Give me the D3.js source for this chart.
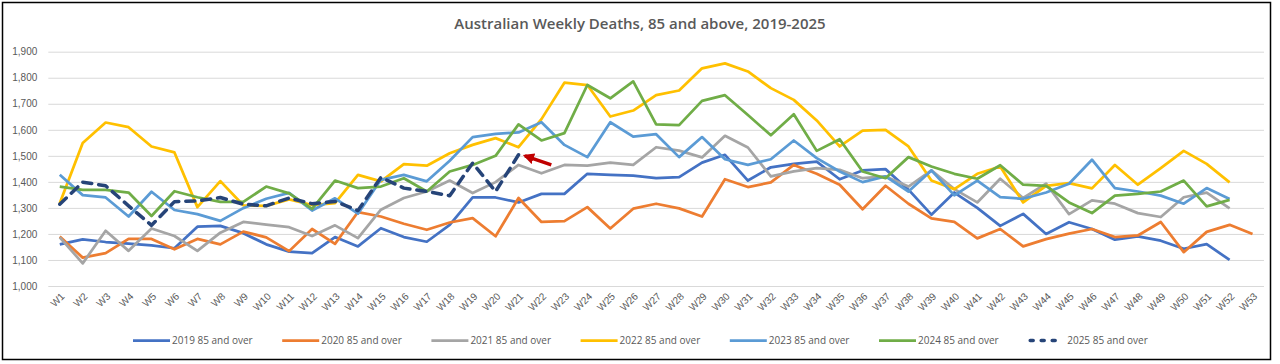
<!DOCTYPE html>
<html>
<head>
<meta charset="utf-8">
<script src="https://cdn.jsdelivr.net/npm/d3@7"></script>
<style>
  body { margin: 0; background: #fff; }
  svg { display: block; font-family: "Open Sans", "Noto Sans", sans-serif; }
  .grid line { stroke: #d9d9d9; stroke-width: 1; }
  .tick text { fill: #595959; }
</style>
</head>
<body>
<div id="chart"></div>
<script>
// weekly deaths, 85 and above
var weeks = d3.range(1, 54).map(function(i) { return "W" + i; });
var yTicks = [1000, 1100, 1200, 1300, 1400, 1500, 1600, 1700, 1800, 1900];

var d2019 = [1160, 1179, 1169, 1163, 1156, 1145, 1228, 1231, 1203, 1160,
  1132, 1126, 1188, 1152, 1222, 1188, 1170, 1235, 1340, 1340,
  1321, 1354, 1354, 1431, 1427, 1424, 1414, 1418, 1474, 1504,
  1405, 1456, 1469, 1478, 1410, 1444, 1449, 1370, 1274, 1359,
  1300, 1231, 1277, 1200, 1245, 1219, 1178, 1191, 1174, 1143,
  1161, 1100];
var d2020 = [1190, 1109, 1126, 1181, 1181, 1141, 1181, 1160, 1209, 1187,
  1134, 1219, 1162, 1284, 1267, 1239, 1216, 1244, 1261, 1191,
  1338, 1246, 1249, 1303, 1221, 1297, 1316, 1298, 1267, 1410,
  1380, 1398, 1465, 1431, 1389, 1295, 1385, 1316, 1260, 1246,
  1183, 1219, 1152, 1180, 1201, 1219, 1188, 1194, 1246, 1130,
  1208, 1235, 1200];
var d2021 = [1187, 1087, 1212, 1135, 1221, 1192, 1135, 1205, 1246, 1236,
  1226, 1192, 1233, 1184, 1293, 1338, 1363, 1405, 1357, 1399,
  1465, 1433, 1465, 1462, 1474, 1465, 1533, 1520, 1494, 1577,
  1532, 1421, 1440, 1453, 1446, 1414, 1421, 1382, 1444, 1372,
  1321, 1412, 1338, 1393, 1276, 1329, 1316, 1280, 1265, 1341,
  1359, 1298];
var d2022 = [1318, 1549, 1628, 1610, 1536, 1513, 1303, 1403, 1310, 1308,
  1333, 1311, 1318, 1427, 1402, 1468, 1462, 1510, 1542, 1568,
  1533, 1641, 1781, 1772, 1651, 1674, 1733, 1751, 1836, 1855,
  1824, 1760, 1715, 1636, 1536, 1597, 1600, 1536, 1405, 1372,
  1431, 1459, 1321, 1385, 1395, 1375, 1465, 1389, 1453, 1519,
  1469, 1398];
var d2023 = [1427, 1349, 1340, 1267, 1362, 1292, 1276, 1250, 1299, 1335,
  1358, 1290, 1337, 1278, 1408, 1427, 1402, 1481, 1572, 1584,
  1590, 1629, 1542, 1495, 1629, 1574, 1583, 1495, 1572, 1487,
  1465, 1487, 1559, 1491, 1440, 1399, 1421, 1363, 1444, 1348,
  1405, 1341, 1335, 1359, 1393, 1485, 1376, 1363, 1347, 1316,
  1376, 1334];
var d2024 = [1382, 1369, 1369, 1359, 1269, 1364, 1341, 1323, 1323, 1382,
  1356, 1296, 1405, 1376, 1382, 1414, 1363, 1440, 1465, 1500,
  1621, 1559, 1587, 1772, 1721, 1786, 1621, 1618, 1711, 1733,
  1657, 1579, 1660, 1519, 1564, 1440, 1414, 1495, 1459, 1431,
  1412, 1464, 1389, 1385, 1321, 1280, 1347, 1354, 1363, 1405,
  1306, 1331];
var d2025 = [1314, 1399, 1385, 1308, 1233, 1324, 1327, 1340, 1314, 1308,
  1338, 1316, 1325, 1290, 1417, 1376, 1363, 1347, 1472, 1363,
  1504];

var seriesNames = ["2019 85 and over", "2020 85 and over", "2021 85 and over",
  "2022 85 and over", "2023 85 and over", "2024 85 and over", "2025 85 and over"];
var seriesValues = [d2019, d2020, d2021, d2022, d2023, d2024, d2025];
var seriesColors = ["#4472c4", "#ed7d31", "#a5a5a5", "#ffc000", "#5b9bd5", "#70ad47", "#264478"];

// red arrow pointing at the latest 2025 week: [week index, value]
var arrowFrom = [21.43, 1465];
var arrowTo = [20.28, 1500];

var W = 1280, H = 364;
var margin = { top: 51.7, right: 16, bottom: 78, left: 48.3 };

var svg = d3.select("#chart").append("svg")
  .attr("width", W)
  .attr("height", H);

svg.append("defs").append("marker")
  .attr("id", "arrowhead")
  .attr("viewBox", "0 0 10 10")
  .attr("refX", 8)
  .attr("refY", 5)
  .attr("markerWidth", 3.2)
  .attr("markerHeight", 3.2)
  .attr("orient", "auto")
  .append("path")
  .attr("d", "M0,0 L10,5 L0,10 z")
  .attr("fill", "#c00000");

// outer frame
svg.append("rect")
  .attr("x", 2.5).attr("y", 2.5)
  .attr("width", 1268).attr("height", 357)
  .attr("fill", "#fff")
  .attr("stroke", "#000")
  .attr("stroke-width", 1.5);

// title
svg.append("text")
  .attr("x", 640)
  .attr("y", 29)
  .attr("text-anchor", "middle")
  .attr("fill", "#595959")
  .style("font-size", "15px")
  .style("font-weight", 600)
  .text("Australian Weekly Deaths, 85 and above, 2019-2025");

var x = d3.scalePoint().domain(weeks)
  .range([margin.left, 1264]).padding(0.5);
var xi = d3.scaleLinear().domain([0, weeks.length - 1])
  .range([x(weeks[0]), x(weeks[weeks.length - 1])]);
var y = d3.scaleLinear().domain([1000, 1900]).range([286, margin.top]);

// gridlines + y labels
var yAxis = svg.append("g")
  .attr("class", "grid")
  .attr("transform", "translate(" + margin.left + ",0)")
  .call(d3.axisLeft(y).tickValues(yTicks).tickSize(-(1264 - margin.left))
    .tickPadding(11).tickFormat(d3.format(",")));
yAxis.select(".domain").remove();
yAxis.selectAll("text").style("font-size", "10px");

// x axis labels, rotated like excel
var xAxis = svg.append("g")
  .attr("transform", "translate(0,286)")
  .call(d3.axisBottom(x).tickSize(0).tickPadding(0));
xAxis.select(".domain").remove();
xAxis.selectAll("text")
  .style("font-size", "10px")
  .attr("text-anchor", "end")
  .attr("dy", null)
  .attr("y", 0)
  .attr("transform", function() { return "translate(5,11) rotate(-45)"; });

// series lines
var line = d3.line()
  .x(function(d, i) { return x(weeks[i]); })
  .y(function(d) { return y(d); });

seriesValues.forEach(function(vals, k) {
  var p = svg.append("path")
    .datum(vals)
    .attr("fill", "none")
    .attr("stroke", seriesColors[k])
    .attr("stroke-width", k == 6 ? 3.5 : 2.75)
    .attr("stroke-linejoin", "round")
    .attr("d", line);
  if (k == 6) {
    p.attr("stroke-dasharray", "9,7").attr("stroke-linecap", "round");
  }
});

// annotation arrow
svg.append("line")
  .attr("x1", xi(arrowFrom[0])).attr("y1", y(arrowFrom[1]))
  .attr("x2", xi(arrowTo[0])).attr("y2", y(arrowTo[1]))
  .attr("stroke", "#c00000")
  .attr("stroke-width", 3.5)
  .attr("marker-end", "url(#arrowhead)");

// legend
var legend = svg.append("g").attr("transform", "translate(133,340.5)");
seriesNames.forEach(function(name, k) {
  var g = legend.append("g").attr("transform", "translate(" + (k * 149.2) + ",0)");
  var l = g.append("line")
    .attr("x1", 0).attr("x2", 37)
    .attr("stroke", seriesColors[k])
    .attr("stroke-width", k == 6 ? 3.5 : 2.75);
  if (k == 6) l.attr("x1", 2).attr("x2", 34).attr("stroke-dasharray", "3,8").attr("stroke-linecap", "round");
  g.append("text")
    .attr("x", 39)
    .attr("y", 0)
    .attr("dy", "0.35em")
    .attr("fill", "#595959")
    .style("font-size", "10px")
    .text(name);
});
</script>
</body>
</html>
